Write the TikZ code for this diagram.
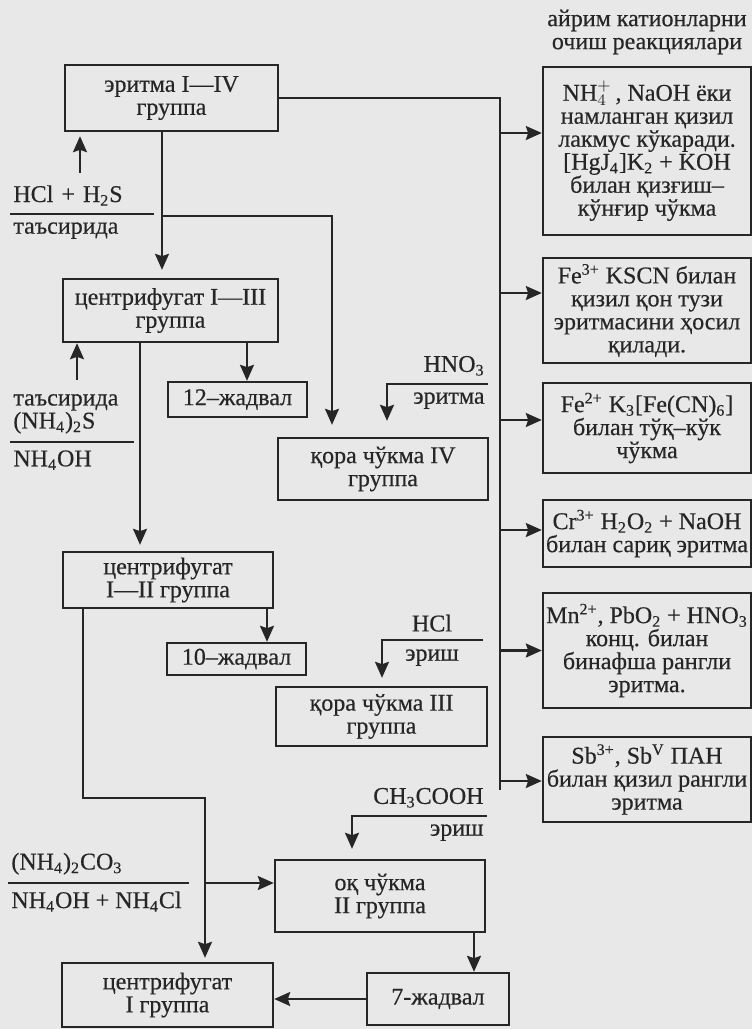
\documentclass[tikz,border=0pt]{standalone}
\usepackage{fontspec}
\setmainfont{Liberation Serif}[FakeBold=0.4]
\usetikzlibrary{arrows.meta}
\definecolor{paper}{HTML}{E8E8E8}
\definecolor{ink}{HTML}{262626}

\begin{document}
\begin{tikzpicture}[x=0.5pt, y=-0.5pt,
                box/.style={draw=ink, line width=1.2pt, text=ink, align=center, inner sep=1pt,
                    font=\fontsize{12}{11.5}\selectfont},
                lbl/.style={text=ink, inner xsep=1.5pt, inner ysep=4pt, font=\fontsize{12}{11.5}\selectfont},
                arr/.style={draw=ink, line width=1.1pt, -{Stealth[length=8pt, width=7pt, inset=1.2pt]}},
                ln/.style={draw=ink, line width=1.1pt}]
                \useasboundingbox (0,0) rectangle (752,1029);
                \fill[paper] (0,0) rectangle (752,1029);
                \node[box, minimum width=106.5pt, minimum height=33pt] (A) at (171.5,98) {эритма I—IV\\группа};
                \node[box, minimum width=107.5pt, minimum height=31.5pt] (B) at (170.5,310.5) {центрифугат I—III\\группа};
                \node[box, minimum width=105pt, minimum height=31pt] (C) at (383,469) {қора чўкма IV\\группа};
                \node[box, minimum width=69.5pt, minimum height=17.5pt] (D) at (237.5,399.5) {12–жадвал};
                \node[box, minimum width=105pt, minimum height=28pt] (E) at (168,580) {центрифугат\\I—II группа};
                \node[box, minimum width=69.5pt, minimum height=16pt] (F) at (236.5,659) {10–жадвал};
                \node[box, minimum width=105.5pt, minimum height=29.5pt] (G) at (381.5,716.5) {қора чўкма III\\группа};
                \node[box, minimum width=105pt, minimum height=36pt] (I) at (380,896) {оқ чўкма\\II группа};
                \node[box, minimum width=71pt, minimum height=26pt] (J) at (438,999) {7-жадвал};
                \node[box, minimum width=105.5pt, minimum height=32pt] (H) at (167.5,995) {центрифугат\\I группа};
                \node[lbl, align=center] (T) at (647,32) {айрим катионларни\\очиш реакциялари};
                \node[box, minimum width=104pt, minimum height=84pt] (N1) at (647,151)
                    {NH$_4^+$\,, NaOH ёки\\намланган қизил\\лакмус кўкаради.\\{}[HgJ\textsubscript{4}]K\textsubscript{2} + KOH\\билан қизғиш–\\кўнғир чўкма};
                \node[box, minimum width=104pt, minimum height=52.5pt] (N2) at (647,310.5)
                    {Fe\textsuperscript{3+} KSCN билан\\қизил қон тузи\\эритмасини ҳосил\\қилади.};
                \node[box, minimum width=104pt, minimum height=45pt] (N3) at (647,428)
                    {Fe\textsuperscript{2+} K\textsubscript{3}[Fe(CN)\textsubscript{6}]\\билан тўқ–кўк\\чўкма};
                \node[box, minimum width=104pt, minimum height=33.5pt] (N4) at (647,533.5)
                    {Cr\textsuperscript{3+} H\textsubscript{2}O\textsubscript{2} + NaOH\\билан сариқ эритма};
                \node[box, minimum width=104pt, minimum height=57.5pt] (N5) at (647,650.5)
                    {Mn\textsuperscript{2+}, PbO\textsubscript{2} + HNO\textsubscript{3}\\конц. билан\\бинафша рангли\\эритма.};
                \node[box, minimum width=104pt, minimum height=42.5pt] (N6) at (647,779.5)
                    {Sb\textsuperscript{3+}, Sb\textsuperscript{V} ПАН\\билан қизил рангли\\эритма};
                \node[lbl, anchor=south west, text width=68.5pt, align=left] (L1) at (10,214) {HCl + H\textsubscript{2}S};
                \draw[ln] (L1.south west) -- (L1.south east);
                \node[lbl, anchor=north west, align=left] (L2) at (L1.south west) {таъсирида};
                \node[lbl, anchor=south west, text width=58.5pt, align=left] (L3) at (10,442) {таъсирида\\(NH\textsubscript{4})\textsubscript{2}S};
                \draw[ln] (L3.south west) -- (L3.south east);
                \node[lbl, anchor=north west, align=left] (L4) at (L3.south west) {NH\textsubscript{4}OH};
                \node[lbl, anchor=south west, text width=87pt, align=left] (L5) at (8,883) {(NH\textsubscript{4})\textsubscript{2}CO\textsubscript{3}};
                \draw[ln] (L5.south west) -- (L5.south east);
                \node[lbl, anchor=north west, align=left] (L6) at (L5.south west) {NH\textsubscript{4}OH + NH\textsubscript{4}Cl};
                \coordinate (ab) at (162,216);
                \coordinate (bc) at (332,216);
                \coordinate (tr) at (500,99);
                \coordinate (trb) at (500,790);
                \coordinate (bd) at (247,0);
                \coordinate (be) at (140,0);
                \coordinate (ef) at (267,0);
                \coordinate (hn) at (488,384);
                \coordinate (hnd) at (387,384);
                \coordinate (hc) at (483,640);
                \coordinate (hcd) at (382,640);
                \coordinate (eh) at (83,798);
                \coordinate (ehd) at (205,798);
                \coordinate (hi) at (205,883);
                \coordinate (ac) at (487,816);
                \coordinate (acd) at (352,816);
                \coordinate (ij) at (474,0);
                \coordinate (u1) at (80,173);
                \coordinate (u2) at (77,380);
                \draw[arr, shorten >=4pt] (A.south -| ab) -- (B.north -| ab);
                \draw[arr, shorten >=6pt] (ab) -- (bc) -- (bc |- C.north);
                \draw[ln] (A.east) -- (A.east -| tr) -- (trb);
                \foreach \n/\s in {N1/9, N2/8.75, N3/4, N4/1.75, N5/0, N6/-0.75} {
                    \path ([yshift=\s pt]\n.west) coordinate (p\n);
                    \draw[arr] (tr |- p\n) -- (p\n);
                }
                \draw[arr] (B.south -| bd) -- (D.north -| bd);
                \draw[arr, shorten >=3pt] (B.south -| be) -- (E.north -| be);
                \draw[arr] (E.south -| ef) -- (F.north -| ef);
                \draw[arr, shorten >=8pt] (hn) -- (hnd) -- (hnd |- C.north);
                \draw[arr, shorten >=4pt] (hc) -- (hcd) -- (hcd |- G.north);
                \draw[arr, shorten >=2pt] (E.south -| eh) -- (eh) -- (ehd) -- (ehd |- H.north);
                \draw[arr] (hi) -- (hi -| I.west);
                \draw[arr, shorten >=5pt] (ac) -- (acd) -- (acd |- I.north);
                \draw[arr] (I.south -| ij) -- (J.north -| ij);
                \draw[arr] (J.west) -- (J.west -| H.east);
                \draw[arr, shorten >=2pt] (u1) -- (u1 |- A.south);
                \draw[arr] (u2) -- (u2 |- B.south);
                \node[lbl, anchor=south east] (hno) at (hn) {HNO\textsubscript{3}};
                \node[lbl, anchor=north east] (hne) at (hn) {эритма};
                \node[lbl, anchor=south] (hcl) at (432,640) {HCl};
                \node[lbl, anchor=north] (hce) at (432,641) {эриш};
                \node[lbl, anchor=south east] (aco) at (ac) {CH\textsubscript{3}COOH};
                \node[lbl, anchor=north east] (ace) at (ac) {эриш};
            \end{tikzpicture}
\end{document}
